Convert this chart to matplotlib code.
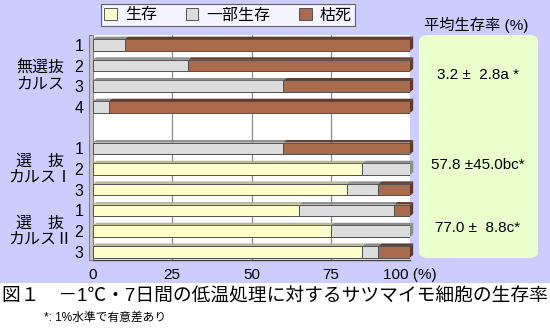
import matplotlib.pyplot as plt
from matplotlib.patches import Rectangle, Polygon, FancyBboxPatch

plt.rcParams['font.family'] = ['Liberation Sans', 'Noto Sans CJK JP', 'DejaVu Sans']

# ============================================
# Data (% of cells per line)
# ============================================

row_labels = ["1", "2", "3", "4", "1", "2", "3", "1", "2", "3"]
row_pos = [0, 1, 2, 3, 5, 6, 7, 8, 9, 10]
alive = [0, 0, 0, 0, 0, 85, 80, 65, 75, 85]
partial = [10, 30, 60, 5, 60, 15, 10, 30, 25, 5]
dead = [90, 70, 40, 95, 40, 0, 10, 5, 0, 10]

series_names = ["生存", "一部生存", "枯死"]
series_colors = ["#FFFFCC", "#DCDCDC", "#AA6A4C"]
side_colors = ["#B8B890", "#8C8C8C", "#5E3A2A"]

x_ticks = [0, 25, 50, 75, 100]
x_labels = ["0", "25", "50", "75", "100 (%)"]

group_names = ["無選抜\nカルス", "選　抜\nカルスⅠ", "選　抜\nカルスⅡ"]
group_y = [1.5, 6.0, 9.0]
mean_text = ["3.2 ±  2.8a *", "57.8 ±45.0bc*", "77.0 ±  8.8c*"]
mean_y = [75, 165, 228]

# ============================================
# Figure
# ============================================

fig = plt.figure(figsize=(5.5, 3.3), dpi=100)
W, H = 550, 330

# lavender panel behind the chart
fig.patches.append(Rectangle((0, 47 / H), 1, 1 - 47 / H, transform=fig.transFigure,
                             facecolor="#CCCCFF", edgecolor="none", zorder=-5))

ax = fig.add_axes([93 / W, 70 / H, (410 - 93) / W, (260 - 35) / H])
ax.set_zorder(3)
ax.set_facecolor("white")
ax.set_xlim(0, 100)
ax.set_ylim(10.4, -0.48)

for g in [25, 50, 75]:
    ax.axvline(g, color="#8A8A8A", linewidth=0.9, zorder=1)

h = 0.56
dx, dy = 1.0, 0.12
for i, y in enumerate(row_pos):
    left = 0
    segs = [alive[i], partial[i], dead[i]]
    last = 0
    for k, v in enumerate(segs):
        if v <= 0:
            continue
        ax.barh(y, v, left=left, height=h, color=series_colors[k],
                edgecolor="#505050", linewidth=0.7, zorder=3)
        # darker top face
        ax.add_patch(Polygon([(left, y - h / 2), (left + dx, y - h / 2 - dy),
                              (left + v + dx, y - h / 2 - dy), (left + v, y - h / 2)],
                             closed=True, facecolor=side_colors[k], edgecolor="none",
                             zorder=3, clip_on=False))
        left += v
        last = k
    # right side face
    ax.add_patch(Polygon([(left, y - h / 2), (left + dx, y - h / 2 - dy),
                          (left + dx, y + h / 2 - dy), (left, y + h / 2)],
                         closed=True, facecolor=side_colors[last], edgecolor="none",
                         zorder=3, clip_on=False))

# grey side wall on the left
ax.add_patch(Rectangle((-1.2, -0.48), 1.2, 10.88, facecolor="#C4C4C4",
                       edgecolor="#707070", linewidth=0.6, clip_on=False, zorder=2))

for s in ["top", "right", "left"]:
    ax.spines[s].set_visible(False)
ax.spines["bottom"].set_color("#404040")
ax.spines["bottom"].set_linewidth(1.0)

ax.set_xticks(x_ticks)
ax.set_xticklabels(x_labels, fontsize=11)
ax.set_yticks(row_pos)
ax.set_yticklabels(row_labels, fontsize=11.5)
ax.tick_params(length=0, pad=6)
ax.tick_params(axis="y", pad=7)

# group labels on the left
for name, gy in zip(group_names, group_y):
    yy = ax.transData.transform((0, gy))[1] / fig.dpi / 3.3
    fig.text(40 / W, yy, name, fontsize=11.5, ha="center", va="center", linespacing=1.1)

# legend
handles = [Rectangle((0, 0), 1, 1, facecolor=c, edgecolor="#404040", linewidth=0.6)
           for c in series_colors]
leg = fig.legend(handles, series_names, ncol=3, loc="center",
                 bbox_to_anchor=(228 / W, 1 - 15 / H), fontsize=11.5,
                 frameon=True, fancybox=False, edgecolor="#404040",
                 handlelength=0.8, handleheight=0.8, handletextpad=0.5,
                 columnspacing=1.8, borderpad=0.2)
leg.get_frame().set_linewidth(0.8)

# mean survival panel
fig.patches.append(FancyBboxPatch((419 / W, 1 - 258 / H), (538 - 419) / W, (258 - 35) / H,
                                  boxstyle="round,pad=0,rounding_size=0.018",
                                  transform=fig.transFigure, facecolor="#EBFFCC",
                                  edgecolor="none", zorder=1))
fig.text(476 / W, 1 - 25 / H, "平均生存率 (%)", fontsize=11, ha="center", va="center")
for t, ty in zip(mean_text, mean_y):
    fig.text(478 / W, 1 - ty / H, t, fontsize=11, ha="center", va="center")

# caption
fig.text(2 / W, 1 - 297 / H, "図１　－1℃・7日間の低温処理に対するサツマイモ細胞の生存率",
         fontsize=13.5, ha="left", va="center")
fig.text(44 / W, 1 - 318 / H, "*: 1%水準で有意差あり", fontsize=8.5, ha="left", va="center")

plt.savefig("out.png", dpi=100)
